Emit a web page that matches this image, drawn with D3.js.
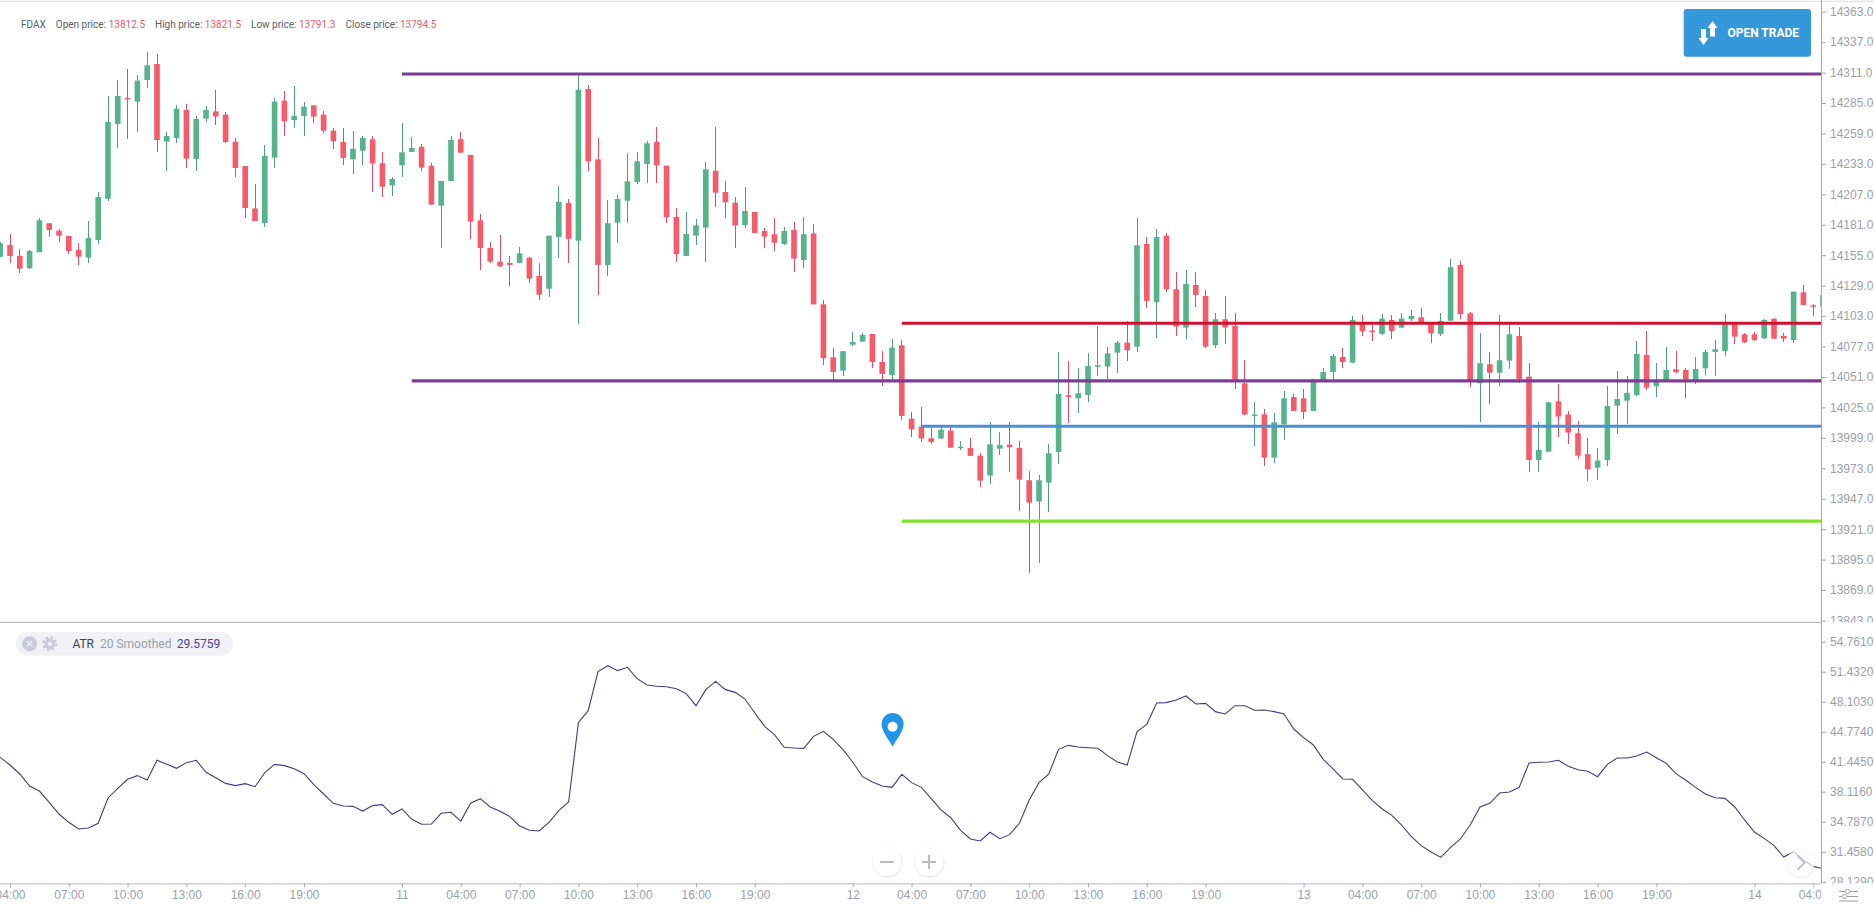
<!DOCTYPE html>
<meta charset="utf-8">
<style>
body { margin: 0; background: #fff; overflow: hidden; }
svg { display: block; font-family: Roboto, sans-serif; }
.axis text { font-size: 12px; fill: #9a9fa8; }
.axis path, .axis line { stroke: #a3a8b0; }
.info { font-size: 10px; fill: #5a5f66; }
.info .val { fill: #e2606e; }
</style>
<body>
<script src="https://d3js.org/d3.v7.min.js"></script>
<script>
// FDAX 30 minute candles
const opens = [
  14153.8,14163.7,14154.4,14143.8,14157.5,14182.3,14176,14171.4,14159.5,14152.9,
  14168,14203.3,14267.1,14289.3,14286.2,14304.7,14318.3,14252,14255.1,14279,
  14237.2,14271.6,14277.9,14275.1,14252,14231.2,14195,14182.5,14238.3,14287,
  14270.5,14273.9,14283,14275.1,14261.4,14251.7,14236.9,14244.3,14254,14233.5,
  14214.7,14231.8,14243.2,14247.7,14231.5,14197.3,14218.4,14254,14240.6,14184.8,
  14161.2,14149.5,14148.4,14148.4,14152.9,14137.3,14126.4,14170.6,14199.6,14167.4,
  14297,14236.9,14146.7,14182.8,14201.6,14217.6,14232.9,14251.7,14231.5,14187.7,
  14154.4,14171.7,14178.6,14227.2,14209,14199.9,14180.8,14191.9,14175.7,14172.9,
  14164.6,14176.6,14150.9,14173.7,14113.1,14067.8,14056.4,14078.6,14081.2,14087.8,
  14063.8,14052.7,14078.1,14015.4,14008.6,13998.7,13998.4,14005.2,13990.7,13990.4,
  13983.8,13966.8,13989.8,13993.2,13990.4,13962.8,13944.6,13960.8,13987,14035.4,
  14032.8,14035.7,14059.9,14059.9,14071.8,14080.4,14076.9,14164.6,14114.8,14171.7,
  14125.9,14093.2,14129.6,14120.2,14078.1,14100.3,14094.6,14045.6,14018,14019.1,
  13982.1,14010.6,14033.9,14032.8,14022,14048.5,14055.3,14068.1,14063.3,14097.4,
  14090.6,14087.8,14099.7,14093.2,14100.3,14102,14096.9,14087.8,14099.1,14146.7,
  14105.4,14045.6,14061.9,14054.7,14065,14086.1,14051.3,13980.1,13987.3,14030.2,
  14018.9,14002.9,13985,13973.6,13979.9,14026.5,14030.8,14035.7,14069.8,14043,
  14047.6,14057.6,14057,14047.6,14058.4,14072.4,14073.2,14096.9,14087.5,14087.5,
  14084,14100.6,14086.1,14082.6,14123.3,14112.2,14111.1
];
const closes = [
  14165.2,14154.4,14143.5,14158.6,14184.8,14176.6,14171.7,14158.6,14153.8,14169.7,
  14204.7,14268.8,14291,14288.2,14304.1,14317.2,14253.4,14256.8,14280.2,14237.5,
  14271.4,14279,14273.4,14251.7,14229.5,14195.3,14184.2,14239.8,14286.2,14269.4,
  14273.9,14281.9,14273.4,14261.4,14252.3,14238,14246,14255.1,14233.5,14213.6,
  14220.1,14242.9,14246.6,14229.8,14198.2,14218.4,14253.4,14242.6,14183.7,14161.2,
  14149.5,14145.5,14146.7,14156.6,14135,14121.3,14171.7,14200.5,14168.9,14296.4,
  14235.2,14146.7,14182.3,14203,14218.1,14235.2,14250.6,14231.8,14187.4,14155.8,
  14173.1,14180.5,14228.4,14208.4,14200.2,14180.3,14192.8,14174,14170.9,14165.7,
  14175.7,14152.1,14172.9,14113,14067,14055.3,14073,14080.9,14086.9,14063.8,
  14053.6,14076.1,14017.7,14006.3,13998.4,13995.5,14006,13990.7,13991.5,13983.6,
  13962.5,13993.5,13993,13991,13963.4,13943.7,13962.8,13985.8,14036.5,14033.9,
  14037.1,14060.4,14061,14071.2,14080.4,14073.8,14163.5,14116,14170.6,14125.9,
  14094,14130.5,14121.1,14076.9,14100.3,14093.2,14047,14018.9,14018.9,13982.1,
  14012.3,14032.8,14022,14021.1,14049,14055.3,14069,14063.8,14099.7,14090,
  14089.2,14100.9,14090.3,14100.9,14103.1,14096.9,14088.3,14098.9,14144.7,14104.8,
  14048.5,14062.7,14054.7,14065.3,14087.5,14049.3,13980.1,13988.7,14029.4,14017.2,
  14003.5,13983.8,13972.2,13979.6,14026.3,14032.2,14037.4,14070.7,14041.9,14047,
  14057,14055,14049,14057.9,14072.4,14074.7,14096.9,14085.5,14080.6,14082.6,
  14099.7,14083.8,14083.8,14123.9,14112.5,14111.4,14121.1
];
const highs = [
  14166.6,14172.9,14160,14159.5,14186.5,14182.8,14177.7,14171.4,14165.7,14184.5,
  14208.7,14291,14304.7,14313.8,14308.7,14328.6,14326.6,14260,14283,14284.2,
  14273.9,14282.8,14295.8,14277.3,14255.4,14231.2,14215.8,14248.9,14289.6,14295.3,
  14299.5,14285.6,14283,14278.5,14263.4,14263.4,14260.8,14256.8,14256.8,14242.9,
  14221.5,14267.7,14255.7,14250,14234.1,14218.4,14256.8,14260.3,14240.6,14189.9,
  14166.6,14172,14154.4,14161.8,14153.8,14148.1,14171.7,14214.1,14203,14308.7,
  14300.4,14254.8,14202.2,14206.5,14242,14243.2,14252.6,14264.8,14231.5,14195.6,
  14191.9,14185.7,14234.4,14264.8,14218.7,14204.5,14213,14191.9,14178,14186.5,
  14179.4,14183.1,14187.7,14182,14116.8,14076.1,14073,14089.2,14088.3,14087.8,
  14073.5,14083.2,14082.6,14021.4,14025.1,14007.2,14009.2,14008.6,13996.1,13998.7,
  13986.4,14012.6,14004,14012.3,13996.1,13971,13967.3,13993.8,14072.7,14064.4,
  14058.4,14071.2,14094.6,14076.9,14082.1,14099.1,14186.6,14170.9,14177.2,14173.7,
  14140.7,14142.4,14141,14125.3,14105.4,14120.2,14105.4,14065.6,14029.4,14023.7,
  14020,14039.4,14036.2,14040.5,14049,14058.4,14070.4,14075.5,14103.1,14104.3,
  14096.3,14104.8,14104,14105.4,14108.3,14109.7,14096.9,14105.4,14151.5,14150.4,
  14106.3,14088.3,14072.1,14104,14096.9,14094,14062.7,14012.6,14030,14045,
  14022.3,14013.7,13998.7,13990.4,14043.6,14056.2,14051.9,14081.8,14090.3,14062.7,
  14076.9,14073.5,14058.4,14068.4,14074.1,14082.6,14104.6,14098.3,14088.3,14089.5,
  14100.6,14101.1,14088.3,14123.9,14129.6,14113.1,14124
];
const lows = [
  14153.2,14148.7,14139.5,14143,14157.5,14170.3,14166,14155.8,14146.4,14148.7,
  14164.3,14201,14246.3,14254,14260.5,14298.1,14243.5,14226.7,14250.6,14229.8,
  14227.2,14269.1,14266.5,14250.6,14221.5,14186.5,14184.2,14178.8,14229.8,14256.8,
  14264,14256.6,14267.7,14259.1,14245.5,14232.4,14224.1,14231.8,14209.3,14204.5,
  14205.9,14221.5,14243.2,14227.2,14198.2,14160.9,14218.4,14242.6,14169.2,14142.1,
  14148.1,14144.7,14129,14148.1,14131.6,14116.8,14119,14152.4,14148.7,14096,
  14227.2,14121.3,14137,14165.7,14182.8,14216.1,14217,14217,14182.8,14149.5,
  14154.4,14163.7,14149.5,14196.5,14187.1,14160.9,14178,14174,14161.5,14158.9,
  14163.5,14140.7,14144.4,14113,14061,14048.5,14051.9,14077.8,14081.2,14059,
  14043.6,14047.6,14014.3,13999.5,13995.8,13993.5,13998.4,13990.7,13988.7,13983.6,
  13957.4,13959.6,13984.1,13970.2,13936.9,13883.9,13892.5,13935.5,13977,14012,
  14020,14029.4,14051.9,14049.6,14054.2,14064.4,14072.1,14109.7,14084.1,14123.9,
  14086.3,14083.8,14110.5,14075.5,14075.5,14079.2,14040.5,14018.6,13992.4,13975,
  13977.3,13997.2,14022,14014.9,14022,14047,14047.6,14058.4,14063.3,14086.1,
  14082.1,14086.9,14083.8,14092.6,14099.1,14096.9,14080.4,14086.1,14099.1,14100.3,
  14042.8,14012.9,14027.7,14043.6,14057.6,14045.6,13970.2,13969.6,13987.3,13999.5,
  13993.5,13980.7,13962.2,13963.1,13975.3,14002.1,14010.9,14034.8,14039.9,14033.7,
  14047.6,14054.2,14033.4,14044.8,14052.7,14051.9,14069,14079.2,14080.4,14081.8,
  14083.8,14083.2,14080.9,14079.8,14112.5,14103.1,14110
];
// ATR 20 smoothed, one value per candle
const atr = [
  41.93,41.08,40.08,38.75,38.19,36.94,35.64,34.72,33.98,34.09,
  34.61,37.42,38.49,39.49,39.90,39.41,41.60,41.15,40.71,41.34,
  41.60,40.27,39.67,39.04,38.79,39.01,38.67,40.23,41.15,41.01,
  40.67,40.12,38.90,37.86,36.83,36.53,36.49,35.97,36.57,36.68,
  35.61,36.20,35.05,34.50,34.53,35.72,35.83,34.86,36.83,37.34,
  36.42,35.94,35.35,34.31,33.83,33.76,34.72,36.01,36.97,45.78,
  47.11,51.44,52.10,51.55,51.92,50.66,49.96,49.81,49.77,49.55,
  49.00,47.66,49.44,50.36,49.44,49.14,48.40,46.85,45.37,44.45,
  43.04,42.97,42.93,44.26,44.82,43.93,42.78,41.38,39.78,39.19,
  38.75,38.60,40.04,39.12,38.60,37.34,36.09,35.23,33.83,32.87,
  32.65,33.61,32.90,33.35,34.61,37.20,39.12,40.08,42.82,43.26,
  43.08,43.00,42.93,42.12,41.41,41.08,44.78,45.59,47.96,48.00,
  48.29,48.74,47.85,47.92,47.00,46.74,47.66,47.66,47.15,47.18,
  47.00,46.74,45.07,44.11,43.30,41.71,40.64,39.53,39.49,38.31,
  37.16,36.23,35.49,34.42,33.13,32.13,31.42,30.83,31.94,32.87,
  34.42,36.42,36.83,37.97,38.08,38.60,41.30,41.38,41.41,41.60,
  40.93,40.56,40.38,39.78,41.15,41.86,41.86,42.08,42.52,41.89,
  41.26,40.12,39.38,38.60,37.86,37.45,37.38,36.42,34.98,33.64,
  32.94,32.13,30.87,31.46,30.54,29.83,29.57
];
const priceTicks = [14363,14337,14311,14285,14259,14233,14207,14181,14155,14129,14103,14077,14051,14025,13999,13973,13947,13921,13895,13869,13843];
const atrTicks = [54.761,51.432,48.103,44.774,41.445,38.116,34.787,31.458,28.129];
const timeIdx = [1,7,13,19,25,31,41,47,53,59,65,71,77,87,93,99,105,111,117,123,133,139,145,151,157,163,169,179,185];
const timeLabels = ["04:00","07:00","10:00","13:00","16:00","19:00","11","04:00","07:00","10:00","13:00","16:00","19:00","12","04:00","07:00","10:00","13:00","16:00","19:00","13","04:00","07:00","10:00","13:00","16:00","19:00","14","04:00"];
// drawn levels: price, first candle, colour
const levelPrices = [14309.8, 14047.6, 14096.9, 14008.9, 13927.8];
const levelStarts = [41, 42, 92, 94, 92];
const levelColors = ["#7b3a96", "#7f3c96", "#cf1230", "#4a8fd8", "#7fe52c"];
const infoLabels = ["Open price:", "High price:", "Low price:", "Close price:"];
const infoValues = ["13812.5", "13821.5", "13791.3", "13794.5"];

const width = 1874, height = 907;
const axisX = 1821, sepY = 622.3, bottomY = 883.3;

const svg = d3.select("body").append("svg").attr("width", width).attr("height", height);
const defs = svg.append("defs");
defs.append("clipPath").attr("id", "plot").append("rect").attr("width", axisX).attr("height", bottomY);
defs.append("clipPath").attr("id", "priceClip").append("rect").attr("x", -2).attr("y", 0).attr("width", 60).attr("height", sepY);
defs.append("clipPath").attr("id", "atrClip").append("rect").attr("x", -2).attr("y", sepY).attr("width", 60).attr("height", bottomY - sepY);
defs.append("clipPath").attr("id", "timeClip").append("rect").attr("x", 0).attr("y", 0).attr("width", axisX).attr("height", 30);
const shadow = defs.append("filter").attr("id", "soft").attr("x", "-30%").attr("y", "-30%").attr("width", "160%").attr("height", "160%");
shadow.append("feDropShadow").attr("dx", 0.5).attr("dy", 1).attr("stdDeviation", 1.5).attr("flood-color", "#000").attr("flood-opacity", 0.14);

const x = d3.scaleLinear().domain([0, opens.length - 1]).range([0.2, 1823]);
const y = d3.scaleLinear().domain([13843, 14363]).range([620.5, 11.7]);
const yAtr = d3.scaleLinear().domain([28.129, 54.761]).range([881.7, 641.7]);

const bodyW = 5.6;
const green = "#56b38a", red = "#f55b6b";
const greenWick = "#4f9f7d", redWick = "#e04d5e";
const isUp = function (i) { return closes[i] >= opens[i]; };

svg.append("line").attr("x1", 0).attr("x2", width).attr("y1", 1.3).attr("y2", 1.3).attr("stroke", "#e3e3e3").attr("stroke-width", 1.2);

// candles
const plot = svg.append("g").attr("clip-path", "url(#plot)");
const candle = plot.selectAll(".candle").data(d3.range(opens.length)).enter().append("g").attr("class", "candle");
candle.append("line")
  .attr("x1", function (i) { return x(i); })
  .attr("x2", function (i) { return x(i); })
  .attr("y1", function (i) { return y(highs[i]); })
  .attr("y2", function (i) { return y(lows[i]); })
  .attr("stroke", function (i) { return isUp(i) ? greenWick : redWick; })
  .attr("stroke-width", 1)
  .attr("shape-rendering", "crispEdges");
candle.append("rect")
  .attr("x", function (i) { return x(i) - bodyW / 2; })
  .attr("width", bodyW)
  .attr("y", function (i) { return y(Math.max(opens[i], closes[i])); })
  .attr("height", function (i) { return Math.max(1.5, Math.abs(y(opens[i]) - y(closes[i]))); })
  .attr("fill", function (i) { return isUp(i) ? green : red; });

// horizontal levels
plot.selectAll(".level").data(levelPrices).enter().append("line")
  .attr("class", "level")
  .attr("x1", function (d, i) { return x(levelStarts[i]); })
  .attr("x2", axisX)
  .attr("y1", function (d) { return y(d); })
  .attr("y2", function (d) { return y(d); })
  .attr("stroke", function (d, i) { return levelColors[i]; })
  .attr("stroke-width", 3.2);

// ATR line
const atrLine = d3.line().x(function (d, i) { return x(i); }).y(function (d) { return yAtr(d); });
plot.append("path").datum(atr)
  .attr("d", atrLine)
  .attr("fill", "none")
  .attr("stroke", "#3d3d86")
  .attr("stroke-width", 1.1);

// pane separator and axes
svg.append("line").attr("x1", 0).attr("x2", axisX).attr("y1", sepY).attr("y2", sepY).attr("stroke", "#a3a5a8").attr("stroke-width", 1);
svg.append("line").attr("x1", axisX + 0.5).attr("x2", axisX + 0.5).attr("y1", 0).attr("y2", bottomY).attr("stroke", "#a3a8b0");

const priceAxis = d3.axisRight(y).tickValues(priceTicks).tickFormat(d3.format(".1f")).tickSize(4).tickPadding(4);
svg.append("g").attr("class", "axis").attr("transform", "translate(" + (axisX + 1) + ",0)").attr("clip-path", "url(#priceClip)").call(priceAxis)
  .call(function (g) { g.select(".domain").remove(); });

const atrAxis = d3.axisRight(yAtr).tickValues(atrTicks).tickFormat(d3.format(".4f")).tickSize(4).tickPadding(4);
svg.append("g").attr("class", "axis").attr("transform", "translate(" + (axisX + 1) + ",0)").attr("clip-path", "url(#atrClip)").call(atrAxis)
  .call(function (g) { g.select(".domain").remove(); });

const timeAxis = d3.axisBottom(x).tickValues(timeIdx)
  .tickFormat(function (d) { return timeLabels[timeIdx.indexOf(d)]; })
  .tickSize(4).tickPadding(3);
svg.append("g").attr("class", "axis").attr("transform", "translate(0," + bottomY + ")").attr("clip-path", "url(#timeClip)").call(timeAxis)
  .call(function (g) { g.select(".domain").attr("d", "M0,0.5H" + axisX); });

// instrument line at the top
const info = svg.append("text").attr("class", "info").attr("y", 28);
info.append("tspan").attr("x", 21).text("FDAX");
const infoX = [55.8, 155, 251, 345.6], infoValX = [108.7, 204.8, 299, 400];
infoLabels.forEach(function (t, i) {
  info.append("tspan").attr("x", infoX[i]).text(t);
  info.append("tspan").attr("x", infoValX[i]).attr("class", "val").text(infoValues[i]);
});

// open trade button
const btn = svg.append("g");
btn.append("rect").attr("x", 1683.7).attr("y", 9).attr("width", 127.3).attr("height", 47.7).attr("rx", 3).attr("fill", "#3498db");
btn.append("path").attr("fill", "#fff")
  .attr("d", "M1712.5,21L1717.5,28H1715V36.5H1710V28H1707.5Z M1703.5,45L1698.5,38H1701V29H1706V38H1708.5Z");
btn.append("text").attr("x", 1727.5).attr("y", 37).attr("fill", "#fff")
  .attr("font-size", 12).attr("font-weight", 700).attr("textLength", 71.5).text("OPEN TRADE");

// ATR legend pill
const pill = svg.append("g");
pill.append("rect").attr("x", 15.8).attr("y", 632).attr("width", 217.4).attr("height", 23.7).attr("rx", 11.8).attr("fill", "#f0f2f5");
pill.append("circle").attr("cx", 29.7).attr("cy", 643.7).attr("r", 7.5).attr("fill", "#c6cdd9");
pill.append("path").attr("d", "M27,641L32.4,646.4M32.4,641L27,646.4").attr("stroke", "#f0f2f5").attr("stroke-width", 1.2);
pill.append("circle").attr("cx", 49.8).attr("cy", 643.7).attr("r", 6.2).attr("fill", "none").attr("stroke", "#c6cdd9").attr("stroke-width", 2.6).attr("stroke-dasharray", "2.6 2.27");
pill.append("circle").attr("cx", 49.8).attr("cy", 643.7).attr("r", 3.7).attr("fill", "none").attr("stroke", "#c6cdd9").attr("stroke-width", 3);
const legend = pill.append("text").attr("y", 648).attr("font-size", 12);
legend.append("tspan").attr("x", 72.4).attr("fill", "#3f4652").text("ATR");
legend.append("tspan").attr("x", 100).attr("fill", "#9a9fa8").text("20 Smoothed");
legend.append("tspan").attr("x", 176.7).attr("fill", "#47479b").text("29.5759");

// event pin
const pin = svg.append("g").attr("transform", "translate(892.6,713)");
pin.append("path").attr("fill", "#2196e8").attr("d", "M0,33.7C-3,27,-11,19,-11,11.2A11,11.2 0 1 1 11,11.2C11,19,3,27,0,33.7Z");
pin.append("circle").attr("cy", 13.7).attr("r", 5).attr("fill", "#fff");

// zoom buttons
const zoomBtn = function (cx, cy, op) {
  return svg.append("g").attr("transform", "translate(" + cx + "," + cy + ")")
    .call(function (g) {
      g.append("circle").attr("r", 14).attr("fill", "#fff").attr("fill-opacity", op).attr("filter", "url(#soft)");
    });
};
zoomBtn(887, 862, 1).append("path").attr("d", "M-7,0H7").attr("stroke", "#b9bdc8").attr("stroke-width", 2);
zoomBtn(929, 862, 1).append("path").attr("d", "M-7,0H7M0,-7V7").attr("stroke", "#b9bdc8").attr("stroke-width", 2);
zoomBtn(1800.5, 862.7, 0.7).append("path").attr("d", "M-3,-7L4,0L-3,7").attr("fill", "none").attr("stroke", "#bfc3cc").attr("stroke-width", 2);

// chart settings icon
svg.append("path").attr("fill", "none").attr("stroke", "#9a9fa8").attr("stroke-width", 1)
  .attr("d", "M1839,891.5H1845M1850,891.5H1858M1839,896.5H1842M1847,896.5H1858M1839,901H1858M1845,891.5a2.5,2 0 1 0 5,0a2.5,2 0 1 0 -5,0M1842,896.5a2.5,2 0 1 0 5,0a2.5,2 0 1 0 -5,0");
</script>
</body>
